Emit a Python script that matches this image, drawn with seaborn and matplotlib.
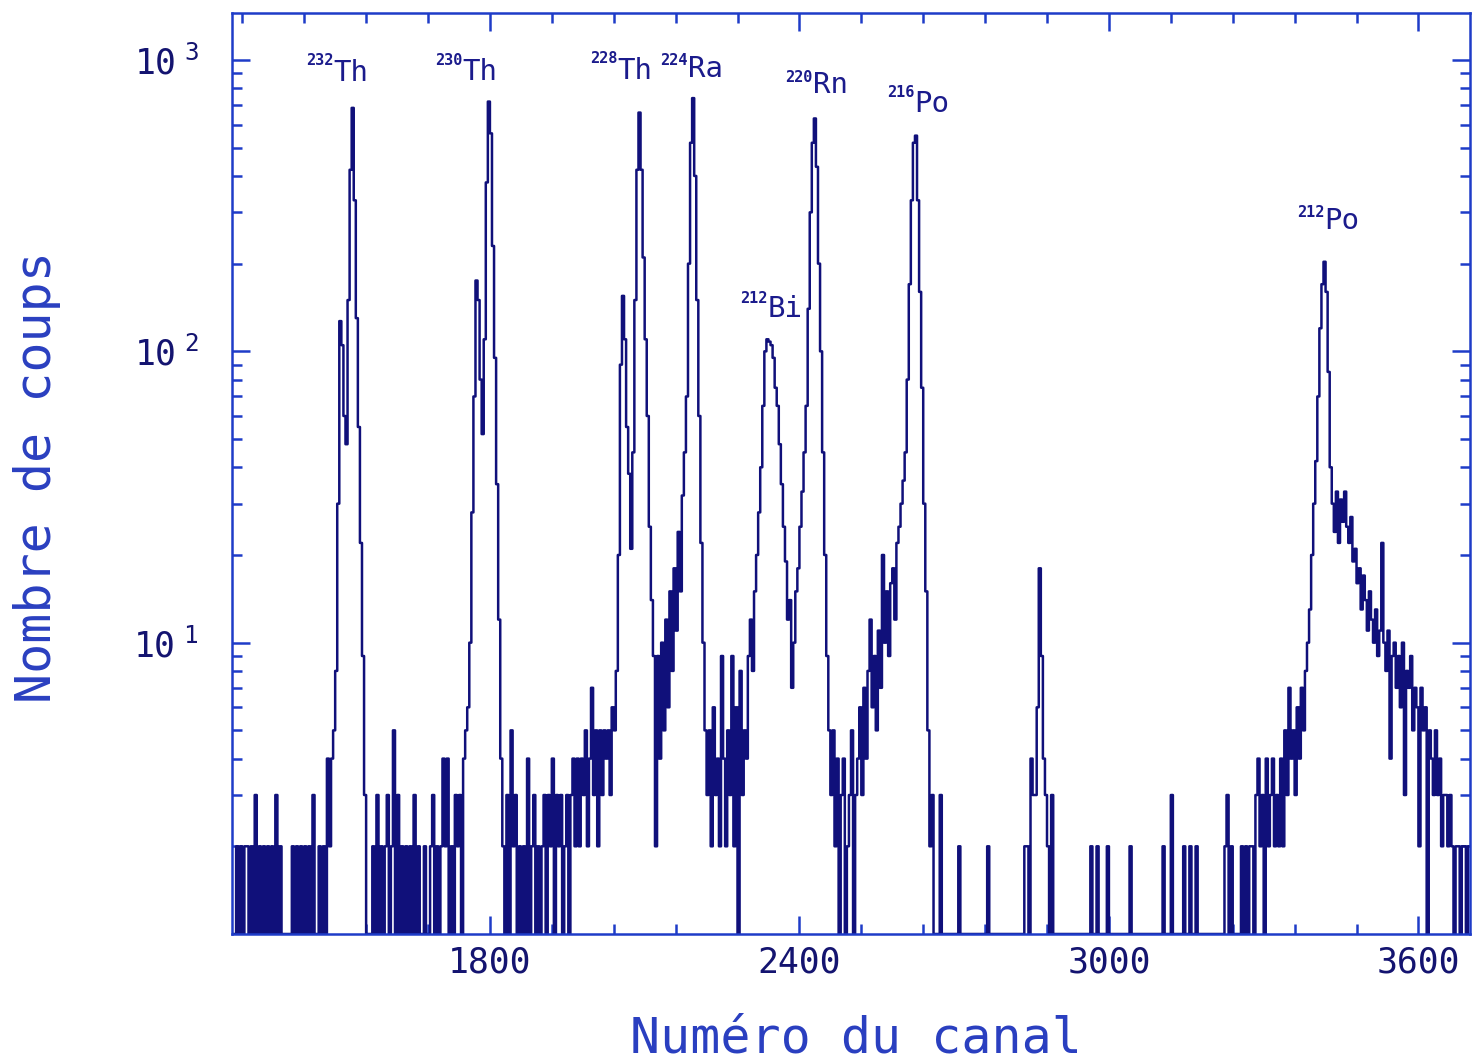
import numpy as np
import pandas as pd
import matplotlib
matplotlib.use("Agg")
import matplotlib.pyplot as plt
import seaborn as sns
from matplotlib.ticker import MultipleLocator, FixedLocator, FixedFormatter, NullFormatter

sns.set_theme(style="white")
plt.rcParams["font.family"] = ["DejaVu Sans Mono", "DejaVu Sans"]
plt.rcParams["mathtext.fontset"] = "custom"
plt.rcParams["mathtext.rm"] = "DejaVu Sans Mono"
plt.rcParams["mathtext.it"] = "DejaVu Sans Mono"

# Spectrum: counts per 4-channel bin, starting at channel 1300
FIRST_CHANNEL = 1300
BIN_WIDTH = 4

background_low = [1, 1, 2, 1, 2, 1, 2, 2, 1, 2, 1, 3, 1, 2, 1, 2, 1, 2, 1, 2,
                  1, 3, 1, 2, 1, 1, 1, 1, 1, 2, 1, 2, 1, 2, 1, 2, 1, 2, 1, 3,
                  1, 1, 2, 1, 2, 1, 4, 2, 4, 5]
peak_th232 = [8, 30, 127, 105, 60, 48, 150, 420, 685, 330, 130, 55, 22, 9, 3, 1]
background_th = [1, 1, 2, 1, 3, 1, 2, 1, 2, 3, 1, 2, 5, 1, 3, 1, 2, 1, 2, 1,
                 2, 1, 3, 1, 2, 1, 1, 2, 1, 1, 2, 3, 1, 2, 1, 2, 4, 2, 4, 1,
                 2, 1, 3, 2, 3, 1, 4, 5, 6]
peak_th230 = [10, 28, 70, 175, 150, 80, 52, 110, 380, 720, 560, 230, 95, 35, 12, 4]
background_mid = [2, 1, 3, 1, 5, 2, 3, 1, 2, 1, 2, 1, 4, 1, 2, 3, 1, 2, 1, 2,
                  3, 1, 3, 2, 4, 1, 3, 2, 3, 1, 2, 3, 1, 3, 4, 2, 4, 2, 4, 3,
                  5, 2, 4, 7, 3, 5, 2, 5, 3, 5, 4, 5, 3, 6, 5]
peaks_th228_ra224 = [8, 20, 90, 155, 110, 55, 38, 21, 45, 150, 420, 660, 420, 210,
                     110, 60, 25, 14, 9, 2, 9, 4, 10, 5, 12, 6, 15, 8, 18, 11,
                     24, 15, 32, 45, 70, 200, 520, 740, 400, 150, 60, 22, 10, 5, 3]
background_ra = [5, 2, 6, 3, 4, 2, 9, 4, 2, 5, 3, 9, 2, 6, 1, 8, 3, 5, 4, 9, 12, 8]
peaks_bi212_rn220 = [15, 20, 28, 40, 65, 100, 110, 108, 105, 95, 75, 65, 48, 35,
                     25, 19, 12, 14, 7, 10, 15, 18, 25, 33, 45, 65, 140, 300, 520,
                     630, 430, 200, 100, 45, 20, 9, 5]
background_rn = [3, 5, 2, 4, 1, 3, 4, 1, 2, 3, 5, 1, 3, 4, 6, 3, 7, 4, 8, 12,
                 6, 9, 5, 11, 7, 20, 10, 15, 9, 16, 18, 12, 22, 25, 30, 36]
peak_po216 = [45, 80, 170, 330, 520, 550, 330, 160, 75, 30, 15, 5, 2]
background_high = [3, 1, 1, 1, 3, 1, 1, 1, 1, 1,
                   1, 1, 1, 2, 1, 1, 1, 1, 1, 1,
                   1, 1, 1, 1, 1, 1, 1, 2, 1, 1,
                   1, 1, 1, 1, 1, 1, 1, 1, 1, 1,
                   1, 1, 1, 1, 1, 2, 2, 1, 4, 3,
                   3, 6, 18, 9, 4, 3, 2, 1, 3, 1,
                   1, 1, 1, 1, 1, 1, 1, 1, 1, 1,
                   1, 1, 1, 1, 1, 1, 1, 2, 1, 1,
                   2, 1, 1, 1, 1, 2, 1, 1, 1, 1,
                   1, 1, 1, 1, 1, 1, 2, 1, 1, 1,
                   1, 1, 1, 1, 1, 1, 1, 1, 1, 1,
                   1, 1, 2, 1, 1, 1, 3, 1, 1, 1,
                   1, 1, 2, 1, 1, 2, 1, 1, 2, 1,
                   1, 1, 1, 1, 1, 1, 1, 1, 1, 1,
                   1, 1, 2, 3, 1, 2, 1, 1, 1]
peak_po212 = [1, 2, 1, 2, 1, 2, 2, 1, 3, 4,
              2, 3, 1, 4, 2, 3, 4, 2, 3, 2,
              4, 2, 5, 3, 7, 4, 5, 3, 6, 4,
              7, 5, 8, 10, 13, 20, 30, 42, 70, 120,
              170, 203, 160, 85, 40, 30, 24, 33, 22, 31,
              26, 33, 25, 22, 27, 19, 21, 16, 18, 13,
              17, 14, 11, 15, 12, 10, 13, 9, 11, 22,
              10, 8, 11, 4, 9, 10, 7, 9, 6, 10,
              3, 8, 7, 9, 5, 7, 6, 2, 7, 5,
              6, 1, 5, 4, 3, 5, 3, 4, 2, 3,
              3, 2, 3, 2, 1, 2, 2, 1, 2, 2,
              1, 2]

# Nuclide labels: mass number, element, channel of the label, baselines (counts)
label_mass = ["232", "230", "228", "224", "212", "220", "216", "212"]
label_element = ["Th", "Th", "Th", "Ra", "Bi", "Rn", "Po", "Po"]
label_channel = [1497, 1746, 2048, 2184, 2339, 2426, 2623, 3418]
label_element_base = [848, 855, 861, 875, 131, 771, 664, 262]
label_mass_base = [961, 961, 977, 961, 147, 841, 747, 290]

x_ticks = [1800, 2400, 3000, 3600]
y_ticks = [10, 100, 1000]
y_tick_labels = [r"$10^{\;\;1}$", r"$10^{\;\;2}$", r"$10^{\;\;3}$"]

counts = np.concatenate([background_low, peak_th232, background_th, peak_th230,
                         background_mid, peaks_th228_ra224, background_ra,
                         peaks_bi212_rn220, background_rn, peak_po216,
                         background_high, peak_po212]).astype(float)
channel = FIRST_CHANNEL + BIN_WIDTH / 2 + BIN_WIDTH * np.arange(len(counts))
spectrum = pd.DataFrame({"canal": channel, "coups": np.maximum(counts, 1)})

LINE = "#10107a"
FRAME = "#1e3cc8"
TICK_TEXT = "#141470"
AXIS_TEXT = "#2a3fc0"
PEAK_TEXT = "#1b1b8c"

fig = plt.figure(figsize=(14.76, 10.63), dpi=100)
ax = fig.add_axes([232 / 1476, 1 - 934 / 1063, (1470 - 232) / 1476, (934 - 13) / 1063])

sns.lineplot(data=spectrum, x="canal", y="coups", ax=ax, color=LINE,
             linewidth=1.8, drawstyle="steps-mid", estimator=None)

ax.set_yscale("log")
ax.set_xlim(1300, 3700)
ax.set_ylim(1, 1450)

ax.xaxis.set_major_locator(FixedLocator(x_ticks))
ax.xaxis.set_minor_locator(MultipleLocator(120))
ax.yaxis.set_major_locator(FixedLocator(y_ticks))
ax.yaxis.set_major_formatter(FixedFormatter(y_tick_labels))
minor_y = [m * 10 ** d for d in range(0, 4) for m in range(2, 10)]
ax.yaxis.set_minor_locator(FixedLocator(minor_y))
ax.yaxis.set_minor_formatter(NullFormatter())

ax.tick_params(which="both", direction="in", top=True, right=True,
               bottom=True, left=True, color=FRAME, width=1.8)
ax.tick_params(which="major", length=13)
ax.tick_params(which="minor", length=7)
ax.tick_params(axis="x", which="major", labelsize=25, labelcolor=TICK_TEXT, pad=8)
ax.tick_params(axis="y", which="major", labelsize=25, labelcolor=TICK_TEXT, pad=24)

for side in ax.spines.values():
    side.set_color(FRAME)
    side.set_linewidth(1.8)
    side.set_visible(True)

ax.set_xlabel("Numéro du canal", fontsize=36, color=AXIS_TEXT)
ax.set_ylabel("Nombre de coups", fontsize=36, color=AXIS_TEXT)
ax.xaxis.set_label_coords(0.504, -0.114)
ax.xaxis.label.set_verticalalignment("center")
ax.yaxis.set_label_coords(-0.1575, 0.496)
ax.yaxis.label.set_verticalalignment("center")

for mass, elem, ch, eb, mb in zip(label_mass, label_element, label_channel,
                                  label_element_base, label_mass_base):
    ax.text(ch, eb, elem, ha="left", va="baseline", fontsize=21, color=PEAK_TEXT)
    ax.text(ch, mb, mass, ha="right", va="baseline", fontsize=11,
            fontweight="bold", color=PEAK_TEXT)

fig.savefig("out.png", dpi=100, facecolor="white")
